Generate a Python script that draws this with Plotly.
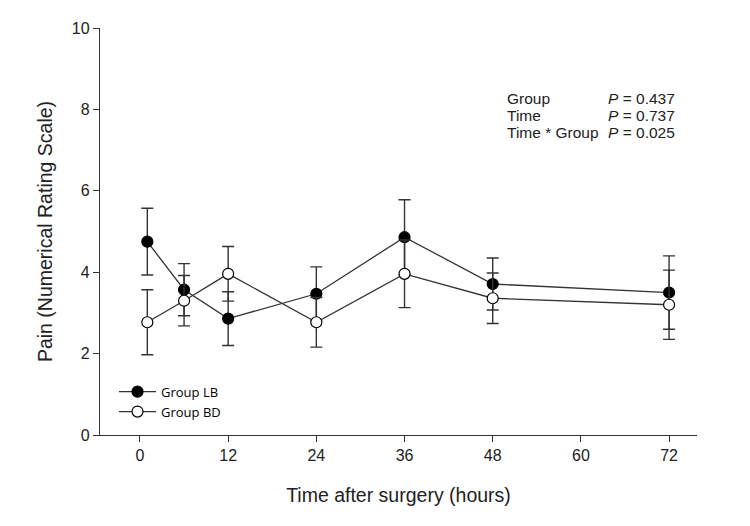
import plotly.graph_objects as go

# time after surgery (hours)
hours = [1, 6, 12, 24, 36, 48, 72]

# Group LB (filled circles): mean and error
lb_mean = [4.75, 3.57, 2.86, 3.47, 4.86, 3.71, 3.50]
lb_err = [0.82, 0.64, 0.66, 0.66, 0.92, 0.64, 0.90]

# Group BD (open circles)
bd_mean = [2.77, 3.30, 3.96, 2.77, 3.96, 3.36, 3.20]
bd_err = [0.80, 0.62, 0.67, 0.61, 0.83, 0.62, 0.85]

x_ticks = [0, 12, 24, 36, 48, 60, 72]
y_ticks = [0, 2, 4, 6, 8, 10]

stats_labels = ['Group', 'Time', 'Time * Group']
stats_p = ['0.437', '0.737', '0.025']

line_col = '#333333'

# page body has an 8px margin, so the figure sits 8px in from the window edge
off = 8
W, H = 750, 526
ml, mr, mt, mb = 100 - off, W - 697 + off, 23 - off, H - 435 + off
pw, ph = W - ml - mr, H - mt - mb


def px_x(sx):
    return (sx - off - ml) / pw


def px_y(sy):
    return 1 - (sy - off - mt) / ph


fig = go.Figure()

fig.add_trace(go.Scatter(
    x=hours, y=lb_mean, name='Group LB', mode='lines+markers',
    line=dict(color=line_col, width=1.3),
    marker=dict(symbol='circle', size=11, color='black',
                line=dict(color='black', width=1.2)),
    error_y=dict(type='data', array=lb_err, visible=True,
                 color=line_col, thickness=1.4, width=6),
))

fig.add_trace(go.Scatter(
    x=hours, y=bd_mean, name='Group BD', mode='lines+markers',
    line=dict(color=line_col, width=1.3),
    marker=dict(symbol='circle', size=11, color='white',
                line=dict(color='black', width=1.2)),
    error_y=dict(type='data', array=bd_err, visible=True,
                 color=line_col, thickness=1.4, width=6),
))

# stats text: labels left aligned, P values right aligned
stat_font = dict(family='Arial, Liberation Sans', size=15.5, color='#222')
for i, (lab, p) in enumerate(zip(stats_labels, stats_p)):
    yy = px_y(94 + i * 17.5)
    fig.add_annotation(x=px_x(505), y=yy, xref='paper', yref='paper',
                       text=lab, showarrow=False, xanchor='left',
                       yanchor='middle', font=stat_font)
    fig.add_annotation(x=px_x(677), y=yy, xref='paper', yref='paper',
                       text='<i>P</i> = ' + p, showarrow=False,
                       xanchor='right', yanchor='middle', font=stat_font)

fig.update_layout(
    width=W, height=H,
    margin=dict(l=ml, r=mr, t=mt, b=mb),
    plot_bgcolor='white', paper_bgcolor='white',
    font=dict(family='Arial, Liberation Sans', color='#222'),
    legend=dict(
        x=px_x(114), y=px_y(376), xanchor='left', yanchor='top',
        bgcolor='rgba(0,0,0,0)', itemwidth=37,
        font=dict(family='Open Sans', size=13, color='black'),
    ),
)

fig.update_xaxes(
    range=[-5.44, 75.8], tickvals=x_ticks, showgrid=False, zeroline=False,
    showline=True, linecolor=line_col, linewidth=1.3,
    ticks='outside', ticklen=6, tickcolor=line_col, tickwidth=1.3,
    tickfont=dict(size=16),
    title=dict(text='Time after surgery (hours)', font=dict(size=19.5), standoff=25),
)
fig.update_yaxes(
    range=[0, 10], tickvals=y_ticks, showgrid=False, zeroline=False,
    showline=True, linecolor=line_col, linewidth=1.3,
    ticks='outside', ticklen=6, tickcolor=line_col, tickwidth=1.3,
    tickfont=dict(size=16),
    title=dict(text='Pain (Numerical Rating Scale)', font=dict(size=19.5), standoff=14),
)

fig.write_html('out.html')
